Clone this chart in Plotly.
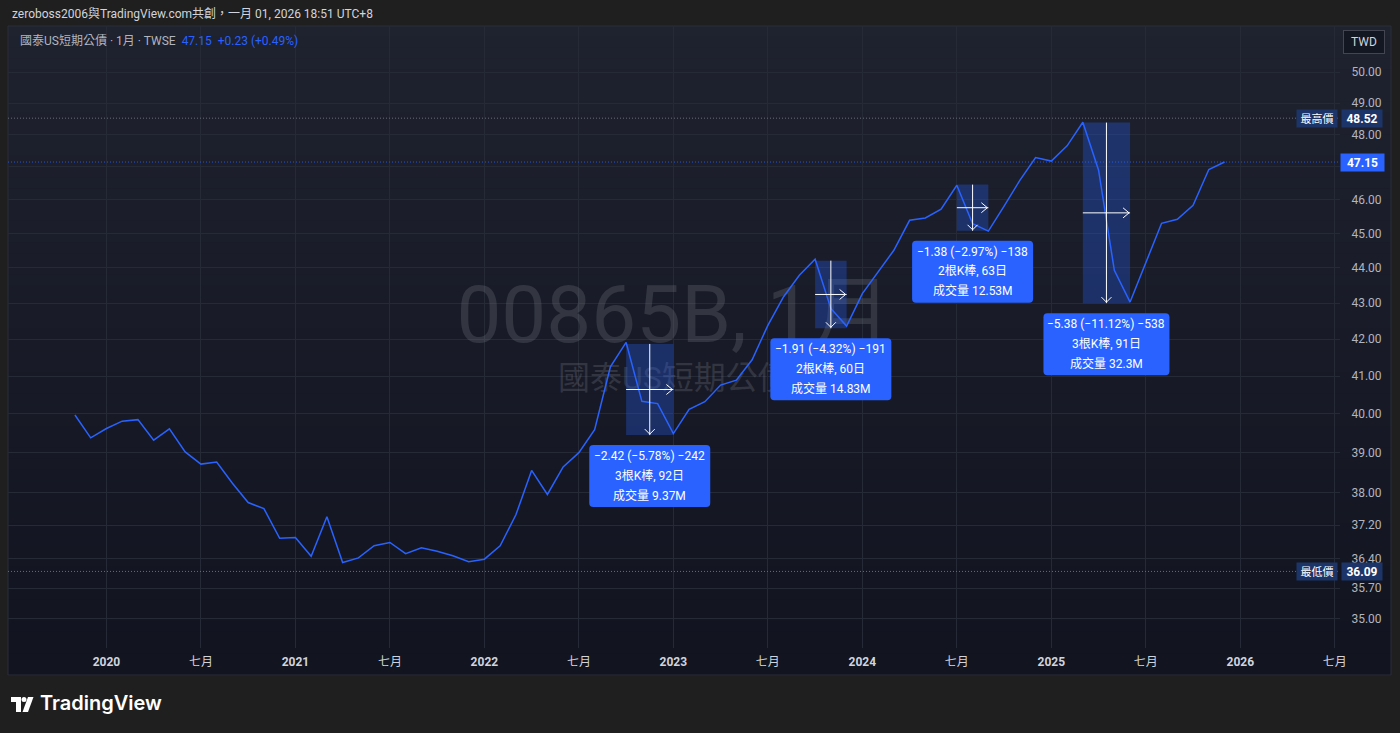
import numpy as np
import pandas as pd
import plotly.graph_objects as go

# ---------------- data ----------------
months = [p.strftime("%Y-%m") for p in pd.period_range("2019-11", "2025-12", freq="M")]
close = [39.97, 39.38,
         39.62, 39.81, 39.85, 39.32, 39.61, 39.02, 38.71, 38.76, 38.23, 37.75, 37.60, 36.88,
         36.90, 36.45, 37.40, 36.30, 36.41, 36.70, 36.78, 36.51, 36.65, 36.57, 36.46, 36.32,
         36.38, 36.70, 37.45, 38.55, 37.95, 38.64, 39.00, 39.59, 41.25, 41.91, 40.33, 40.27,
         39.49, 40.12, 40.32, 40.76, 40.89, 41.44, 42.38, 43.18, 43.79, 44.25, 42.85, 42.36,
         43.27, 43.88, 44.51, 45.39, 45.46, 45.72, 46.44, 45.29, 45.07, 45.81, 46.59, 47.29,
         47.18, 47.65, 48.39, 46.90, 43.93, 43.03, 44.15, 45.30, 45.42, 45.84, 46.92, 47.15]
range_high = 48.52
range_low = 36.09

y_ticks = [35.0, 35.7, 36.4, 37.2, 38.0, 39.0, 40.0, 41.0, 42.0, 43.0, 44.0, 45.0,
           46.0, 47.0, 48.0, 49.0, 50.0]
x_tick_months = ["2020-01", "2020-07", "2021-01", "2021-07", "2022-01", "2022-07",
                 "2023-01", "2023-07", "2024-01", "2024-07", "2025-01", "2025-07",
                 "2026-01", "2026-07"]
x_tick_labels = ["<b>2020</b>", "七月", "<b>2021</b>", "七月", "<b>2022</b>", "七月",
                 "<b>2023</b>", "七月", "<b>2024</b>", "七月", "<b>2025</b>", "七月",
                 "<b>2026</b>", "七月"]

meas_start = ["2022-10", "2023-10", "2024-07", "2025-03"]
meas_end = ["2023-01", "2023-12", "2024-09", "2025-06"]
meas_high = [41.87, 44.21, 46.46, 48.38]
meas_low = [39.45, 42.30, 45.08, 43.00]
meas_line1 = ["−2.42 (−5.78%) −242", "−1.91 (−4.32%) −191",
              "−1.38 (−2.97%) −138", "−5.38 (−11.12%) −538"]
meas_line2 = ["3根K棒, 92日", "2根K棒, 60日", "2根K棒, 63日", "3根K棒, 91日"]
meas_line3 = ["成交量 9.37M", "成交量 14.83M", "成交量 12.53M", "成交量 32.3M"]
meas_label_w = [121, 121, 121, 126]

# ---------------- helpers ----------------
W, H = 1400, 733
ML, MR, MT, MB = 8, 60, 26, 85
PW, PH = W - ML - MR, H - MT - MB

x_range = [-4.25, 80.33]
y_range = [np.log10(34.33), np.log10(51.53)]
X_PER_PX = (x_range[1] - x_range[0]) / PW
LOG_PER_PX = (y_range[1] - y_range[0]) / PH


def px(xp):
    return (xp - ML) / PW


def py(yp):
    return (H - MB - yp) / PH


def x_to_pix(x):
    return ML + (x - x_range[0]) / X_PER_PX


def v_to_pix(v):
    return MT + (y_range[1] - np.log10(v)) / LOG_PER_PX


def month_index(m):
    y, mo = int(m[:4]), int(m[5:])
    y0, m0 = int(months[0][:4]), int(months[0][5:])
    return (y - y0) * 12 + (mo - m0)


def shift_y(v, dpx):
    """value moved dpx screen pixels upward on the log axis"""
    return v * 10 ** (dpx * LOG_PER_PX)


def rounded_rect_path(x0, y0, x1, y1, r):
    """rounded rectangle given in screen pixels -> paper path"""
    def P(x, y):
        return f"{px(x):.6f},{py(y):.6f}"
    return (f"M {P(x0 + r, y0)} L {P(x1 - r, y0)} Q {P(x1, y0)} {P(x1, y0 + r)} "
            f"L {P(x1, y1 - r)} Q {P(x1, y1)} {P(x1 - r, y1)} L {P(x0 + r, y1)} "
            f"Q {P(x0, y1)} {P(x0, y1 - r)} L {P(x0, y0 + r)} Q {P(x0, y0)} {P(x0 + r, y0)} Z")


xi = list(range(len(months)))

FONT = "Roboto, 'Noto Sans CJK TC', sans-serif"
BLUE = "#2962ff"
WHITE = "#ffffff"

fig = go.Figure()


def add_line(xs, ys, color, width=1, dash=None):
    fig.add_trace(go.Scatter(x=xs, y=ys, mode="lines", hoverinfo="skip", showlegend=False,
                             line=dict(color=color, width=width, dash=dash)))


# watermark (behind line)
xc_mid = (x_range[0] + x_range[1]) / 2
fig.add_trace(go.Scatter(
    x=[xc_mid], y=[10 ** (y_range[0] + (y_range[1] - y_range[0]) * py(322))],
    mode="text", text=["00865B, 1月"], hoverinfo="skip", showlegend=False,
    textfont=dict(family=FONT, size=80, color="rgba(120,123,134,0.28)")))
fig.add_trace(go.Scatter(
    x=[xc_mid], y=[10 ** (y_range[0] + (y_range[1] - y_range[0]) * py(381))],
    mode="text", text=["國泰US短期公債"], hoverinfo="skip", showlegend=False,
    textfont=dict(family=FONT, size=32, color="rgba(120,123,134,0.28)")))

# horizontal reference lines
add_line(x_range, [range_high, range_high], "#6a6d78", 1, "1px,2px")
add_line(x_range, [range_low, range_low], "#6a6d78", 1, "1px,2px")
add_line(x_range, [close[-1], close[-1]], "rgba(41,98,255,0.8)", 1, "1px,2px")

# measurement boxes (under the line)
for k in range(len(meas_start)):
    xs, xe = month_index(meas_start[k]), month_index(meas_end[k])
    fig.add_trace(go.Scatter(x=[xs, xe, xe, xs, xs],
                             y=[meas_low[k], meas_low[k], meas_high[k], meas_high[k], meas_low[k]],
                             mode="lines", fill="toself", fillcolor="rgba(41,98,255,0.30)",
                             line=dict(width=0, color="rgba(0,0,0,0)"),
                             hoverinfo="skip", showlegend=False))

# price line
fig.add_trace(go.Scatter(x=xi, y=close, mode="lines", showlegend=False,
                         line=dict(color=BLUE, width=1.5), hoverinfo="skip"))

annotations = []
shapes = []
# measurement arrows and labels
for k in range(len(meas_start)):
    xs, xe = month_index(meas_start[k]), month_index(meas_end[k])
    xc = (xs + xe) / 2
    hi, lo = meas_high[k], meas_low[k]
    mid = np.sqrt(hi * lo)
    add_line([xc, xc], [hi, lo], WHITE, 1)
    add_line([xc - 5 * X_PER_PX, xc, xc + 5 * X_PER_PX],
             [shift_y(lo, 6), shift_y(lo, 1), shift_y(lo, 6)], WHITE, 1)
    add_line([xs, xe], [mid, mid], WHITE, 1)
    add_line([xe - 7 * X_PER_PX, xe - 1 * X_PER_PX, xe - 7 * X_PER_PX],
             [shift_y(mid, 5), mid, shift_y(mid, -5)], WHITE, 1)
    # rounded label box (positioned from the box's data coordinates)
    cx, by = x_to_pix(xc), v_to_pix(lo)
    w = meas_label_w[k]
    shapes.append(dict(type="path", xref="paper", yref="paper", layer="above",
                       path=rounded_rect_path(cx - w / 2, by + 10, cx + w / 2, by + 72, 4),
                       line=dict(width=0), fillcolor=BLUE))
    for txt, sh in [(meas_line1[k], -21), (meas_line2[k], -40.5), (meas_line3[k], -60)]:
        annotations.append(dict(x=xc, y=np.log10(lo), xref="x", yref="y", text=txt,
                                showarrow=False, yshift=sh, xanchor="center",
                                yanchor="middle",
                                font=dict(family=FONT, size=12, color=WHITE)))

# background gradient for the panel
n_bands = 60
top_c = np.array([0x1f, 0x22, 0x2f])
bot_c = np.array([0x12, 0x15, 0x20])
y_top, y_bot = 26, 675
bg_shapes = []
for i in range(n_bands):
    t = i / (n_bands - 1)
    c = (top_c * (1 - t) + bot_c * t).astype(int)
    ya = y_top + (y_bot - y_top) * i / n_bands
    yb = y_top + (y_bot - y_top) * (i + 1) / n_bands + 0.6
    bg_shapes.append(dict(type="rect", xref="paper", yref="paper", layer="below",
                          x0=px(8), x1=px(1391), y0=py(ya), y1=py(yb),
                          line=dict(width=0), fillcolor="rgb(%d,%d,%d)" % tuple(c)))
bg_shapes.append(dict(type="rect", xref="paper", yref="paper", layer="below",
                      x0=px(8), x1=px(1391), y0=py(26), y1=py(675),
                      line=dict(width=1, color="#2a2e39"), fillcolor="rgba(0,0,0,0)"))
shapes = bg_shapes + shapes

# price tags on the right axis
NAVY = "#1d3468"
for val, name in [(range_high, "最高價"), (range_low, "最低價")]:
    annotations.append(dict(x=1, y=np.log10(val), xref="paper", yref="y",
                            text="<b>%.2f</b>" % val, showarrow=False, xanchor="left",
                            xshift=1, yanchor="middle", bgcolor=NAVY, width=36, height=13,
                            borderpad=2, font=dict(family=FONT, size=12, color=WHITE)))
    annotations.append(dict(x=1, y=np.log10(val), xref="paper", yref="y",
                            text=name, showarrow=False, xanchor="right", xshift=-2,
                            yanchor="middle", bgcolor=NAVY, width=36, height=13,
                            borderpad=2, font=dict(family=FONT, size=11, color=WHITE)))
annotations.append(dict(x=1, y=np.log10(close[-1]), xref="paper", yref="y",
                        text="<b>%.2f</b>" % close[-1], showarrow=False, xanchor="left",
                        xshift=0, yanchor="middle", bgcolor=BLUE, width=39, height=13,
                        borderpad=2, font=dict(family=FONT, size=12, color=WHITE)))

# TWD button
annotations.append(dict(x=px(1364.5), y=py(42), xref="paper", yref="paper", text="TWD",
                        showarrow=False, xanchor="center", yanchor="middle",
                        bgcolor="#131722", bordercolor="#434651", borderwidth=1,
                        width=36, height=18, borderpad=2,
                        font=dict(family=FONT, size=12, color="#d1d4dc")))

# header texts
chg = close[-1] - close[-2]
pct = chg / close[-2] * 100
annotations.append(dict(x=px(10), y=py(14), xref="paper", yref="paper",
                        text="zeroboss2006與TradingView.com共創，一月 01, 2026 18:51 UTC+8",
                        showarrow=False, xanchor="left", yanchor="middle",
                        font=dict(family=FONT, size=12, color="#d1d4dc")))
annotations.append(dict(x=px(18), y=py(41), xref="paper", yref="paper",
                        text=("國泰US短期公債 · 1月 · TWSE  "
                              f"<span style='color:{BLUE}'>{close[-1]:.2f}  "
                              f"{chg:+.2f} ({pct:+.2f}%)</span>"),
                        showarrow=False, xanchor="left", yanchor="middle",
                        font=dict(family=FONT, size=12, color="#b2b5be")))

# TradingView logo
annotations.append(dict(x=px(38), y=py(703), xref="paper", yref="paper", text="TradingView",
                        showarrow=False, xanchor="left", yanchor="middle",
                        font=dict(family="Inter, Roboto, sans-serif", size=20,
                                  color=WHITE, weight=600)))
shapes.append(dict(type="rect", xref="paper", yref="paper", x0=px(11), x1=px(21),
                   y0=py(697), y1=py(702), line=dict(width=0), fillcolor=WHITE))
shapes.append(dict(type="rect", xref="paper", yref="paper", x0=px(16), x1=px(21),
                   y0=py(697), y1=py(712), line=dict(width=0), fillcolor=WHITE))
shapes.append(dict(type="circle", xref="paper", yref="paper", x0=px(21.5), x1=px(26.5),
                   y0=py(697), y1=py(702), line=dict(width=0), fillcolor=WHITE))
shapes.append(dict(type="path", xref="paper", yref="paper",
                   path=(f"M {px(28)},{py(697)} L {px(33.5)},{py(697)} "
                         f"L {px(28)},{py(712)} L {px(22.5)},{py(712)} Z"),
                   line=dict(width=0), fillcolor=WHITE))

GRID = "#262a36"
fig.update_layout(
    width=W, height=H,
    margin=dict(l=ML, r=MR, t=MT, b=MB, pad=0),
    paper_bgcolor="#1f1f1f",
    plot_bgcolor="rgba(0,0,0,0)",
    shapes=shapes, annotations=annotations,
    showlegend=False,
    font=dict(family=FONT, color="#b2b5be", size=12),
    xaxis=dict(range=x_range, tickvals=[month_index(m) for m in x_tick_months],
               ticktext=x_tick_labels, showgrid=True, gridcolor=GRID, gridwidth=1,
               zeroline=False, showline=False, ticks="outside", ticklen=3,
               tickcolor="rgba(0,0,0,0)", tickfont=dict(size=12, color="#d1d4dc"),
               fixedrange=True),
    yaxis=dict(type="log", range=y_range, side="right", tickvals=y_ticks,
               ticktext=["%.2f" % v for v in y_ticks], showgrid=True, gridcolor=GRID,
               gridwidth=1, zeroline=False, showline=False, ticks="outside", ticklen=8,
               tickcolor="rgba(0,0,0,0)", tickfont=dict(size=12, color="#b2b5be"),
               fixedrange=True),
)

fig.write_html("out.html")
